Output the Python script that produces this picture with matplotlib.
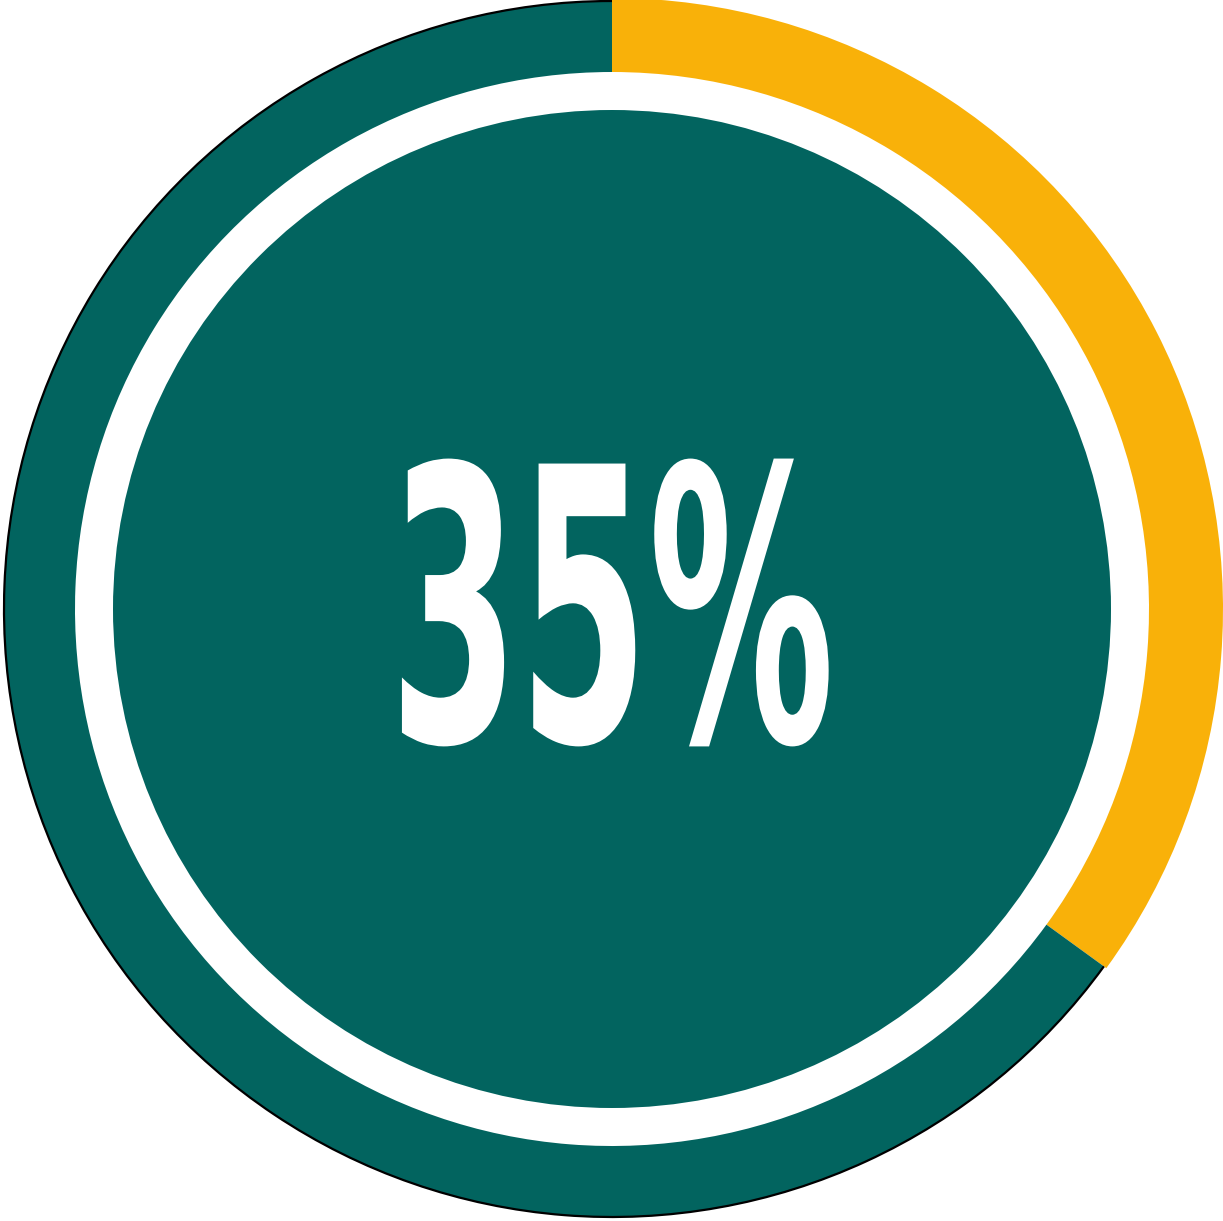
import matplotlib
matplotlib.use('Agg')
import matplotlib.pyplot as plt
from matplotlib.patches import Circle, Arc
from matplotlib import patheffects
from matplotlib.transforms import Affine2D

values = [35, 65]
label = '35%'
colors = ['#F9B109', '#02645F']


# squeeze glyphs horizontally (the original uses a condensed face)
class Squeeze(patheffects.AbstractPathEffect):
    def __init__(self, sx, cx):
        super().__init__()
        self.sx = sx
        self.cx = cx

    def draw_path(self, renderer, gc, tpath, affine, rgbFace=None):
        t = affine + Affine2D().translate(-self.cx, 0).scale(self.sx, 1).translate(self.cx, 0)
        renderer.draw_path(gc, tpath, t, rgbFace)


fig = plt.figure(figsize=(12.23, 12.21), dpi=100)
ax = fig.add_axes([0, 0, 1, 1])

cx, cy = 612, 612
wedges, _ = ax.pie(values, colors=colors, startangle=90, counterclock=False,
                   radius=611, center=(cx, cy), wedgeprops=dict(width=74, linewidth=0))
wedges[1].set_radius(608)
wedges[1].set_width(71)
ax.add_patch(Arc((cx, cy), 2 * 608, 2 * 608, theta1=90, theta2=324, color='black', lw=1.6))
ax.add_patch(Circle((cx, cy), 499, color=colors[1], lw=0))

txt = ax.text(cx, 480, label, ha='center', va='baseline', color='white',
              fontsize=274, fontweight='bold', family=['Liberation Sans Narrow', 'DejaVu Sans'])
ax.set_xlim(0, 1223)
ax.set_ylim(0, 1221)
ax.axis('off')

fig.canvas.draw()
w = txt.get_window_extent().width
txt.set_path_effects([Squeeze(445 / w, cx)])

fig.savefig('out.png', dpi=100)
